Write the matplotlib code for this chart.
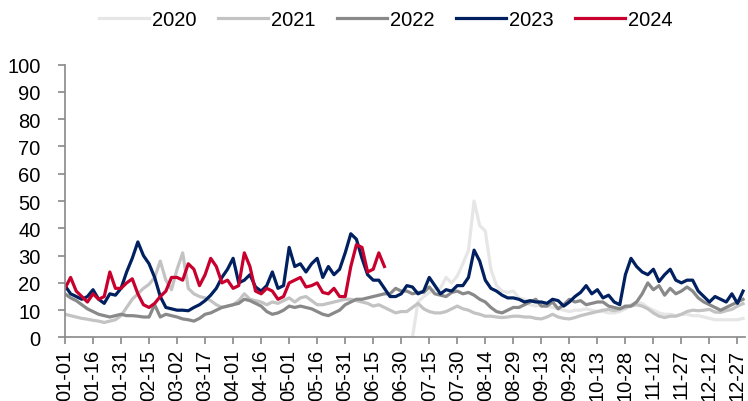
import matplotlib
matplotlib.use("Agg")
import matplotlib.pyplot as plt
import numpy as np

plt.rcParams['font.family'] = ['Liberation Sans', 'DejaVu Sans']

# tick labels (every 15 days)
date_labels = ['01-01', '01-16', '01-31', '02-15', '03-02', '03-17', '04-01', '04-16',
               '05-01', '05-16', '05-31', '06-15', '06-30', '07-15', '07-30', '08-14',
               '08-29', '09-13', '09-28', '10-13', '10-28', '11-12', '11-27', '12-12', '12-27']

# values read every 3 days
s2020 = [0, 0, 0, 0, 0, 0, 0, 13, 15, 16.5,
         17.5, 18, 22, 20, 22.5, 27, 32, 50, 41, 39,
         25, 19, 17, 16.5, 17, 14.5, 14, 12, 11.5, 12,
         11.5, 11, 10.5, 10, 9.5, 10, 10, 10.5, 10, 9.5,
         9.5, 9, 9, 9.5, 10.5, 12, 13, 12.5, 11, 10,
         9, 8.5, 8.5, 8, 8.5, 8.5, 8, 8, 7.5, 7,
         6.5, 6.5, 6.5, 6.5, 6.5, 7]
start2020 = 168

s2021 = [8.5, 8, 7.5, 7, 6.7, 6.3, 6, 5.5, 6, 6.5,
         8, 11, 14, 16, 18, 19.5, 22, 28, 21, 17.5,
         25, 31, 18, 16, 15, 14.5, 13.5, 12, 11, 11.5,
         12, 13.5, 16, 14, 13.5, 13, 12, 13, 12.5, 13.5,
         14.5, 13, 14.5, 15, 13.5, 12, 12, 12.5, 13, 13.5,
         14, 14, 13.5, 13, 12.5, 11.5, 12, 11, 10, 9,
         9.5, 9.5, 11, 12.5, 10.5, 9.5, 9, 9, 9.5, 10.5,
         11.5, 10.5, 10, 9, 8.5, 7.8, 7.8, 7.5, 7.3, 7.5,
         7.8, 7.8, 7.5, 7.5, 7, 6.8, 7.5, 8.5, 7.5, 7,
         6.8, 7.3, 8, 8.5, 9, 9.5, 10, 10.3, 9.8, 10.3,
         11, 11.5, 12, 11.5, 10.5, 9, 7.8, 7.3, 7.8, 7.8,
         8.5, 9.5, 10, 9.8, 10, 10.3, 9.3, 9.2, 9.8, 10.3,
         11.5, 12.4]

s2022 = [16, 14.5, 13.5, 12, 10.5, 9.5, 8.5, 8, 7.5, 8,
         8.5, 8, 8, 7.8, 7.5, 7.5, 12, 7.5, 8.5, 8,
         7.5, 6.8, 6.5, 6, 7, 8.5, 9, 10, 11, 11.5,
         12, 12.5, 14, 13.5, 12.5, 11.5, 9.5, 8.5, 9, 10,
         11.5, 11, 11.5, 11, 10.5, 9.5, 8.5, 8, 9, 10,
         12, 13, 14, 14, 14.5, 15, 15.5, 16, 16, 18,
         17, 17, 16, 16.5, 16.5, 18.5, 16, 15.5, 15, 16.5,
         17, 16, 16.5, 15.5, 14, 13, 11, 9.5, 9, 10,
         11, 11, 12, 13, 14, 11.5, 11.5, 13, 10.5, 12,
         14, 13, 13.5, 12, 12.5, 13, 13, 11.5, 11, 10.5,
         11.5, 11.5, 13, 16, 20, 17.5, 19, 15.5, 18, 16,
         17, 18.5, 17, 14.5, 13, 12, 11, 10, 11, 12,
         13, 14]

s2023 = [19, 16, 15, 14, 15, 17.5, 14, 12.5, 16, 15.5,
         18, 24, 29, 35, 30, 27, 22, 15, 11, 10.5,
         10, 10, 9.8, 11, 12, 13.5, 15.5, 18, 22, 25,
         29, 20, 21, 23, 18.5, 17, 19, 24, 18, 19,
         33, 26, 27, 24, 27, 29, 22, 26, 23, 25,
         31, 38, 36, 29, 23, 21, 21, 18, 15, 15,
         16, 19, 18.5, 16, 17, 22, 19, 16, 17.5, 17,
         19, 19, 22, 32, 28, 21, 18, 17, 15.5, 14.5,
         14.5, 14, 13, 13.5, 13, 13, 12.5, 14, 13.5, 11.5,
         13, 15, 16.5, 19, 16, 17.5, 14.5, 15.5, 13, 12,
         23, 29, 26, 24, 23, 25, 20.5, 23, 25, 21,
         20, 21, 21, 17, 15, 13, 15, 14, 13, 16,
         12.5, 17]

s2024 = [18, 22, 17, 15, 13, 16, 14, 15, 24, 18,
         18, 20, 21.5, 16, 12, 11, 12.5, 15, 17, 22,
         22, 21, 27, 25, 19, 23, 29, 26, 20, 21,
         18, 19, 31, 26, 17, 16, 18, 17, 14, 15,
         20, 21, 22, 18.5, 19, 20, 16.5, 16, 18, 15,
         15, 26, 34, 33, 24, 25, 31, 26]

step = 3
years = ['2020', '2021', '2022', '2023', '2024']
colors = ['#e6e6e6', '#c3c3c3', '#898989', '#002060', '#c8002d']
series = [s2020, s2021, s2022, s2023, s2024]
starts = [start2020, 0, 0, 0, 0]

fig = plt.figure(figsize=(7.48, 4.02), dpi=100)
ax = fig.add_axes([0.0869, 0.158, 0.909, 0.679])

for yr, vals, st, c in zip(years, series, starts, colors):
    x = st + np.arange(len(vals)) * step
    ax.plot(x, vals, color=c, lw=2.3, label=yr, solid_joinstyle='round')

ax.set_xlim(0, 364)
ax.set_ylim(0, 100)
ax.set_yticks(np.arange(0, 101, 10))
ax.set_xticks(np.arange(len(date_labels)) * 15)
ax.set_xticklabels(date_labels, rotation=90)

for s in ['top', 'right']:
    ax.spines[s].set_visible(False)
for s in ['left', 'bottom']:
    ax.spines[s].set_color('#898989')
    ax.spines[s].set_linewidth(1.2)
ax.tick_params(axis='both', colors='#898989', labelcolor='black', labelsize=14.5, width=1.2)
ax.tick_params(axis='y', length=5, pad=12.5)
ax.tick_params(axis='x', length=5, pad=3)

fig.legend(loc='center', bbox_to_anchor=(0.516, 0.95), ncol=5, frameon=False,
           fontsize=14.5, handlelength=2.5, handletextpad=0.15, columnspacing=1.05)

fig.savefig('out.png', dpi=100)
